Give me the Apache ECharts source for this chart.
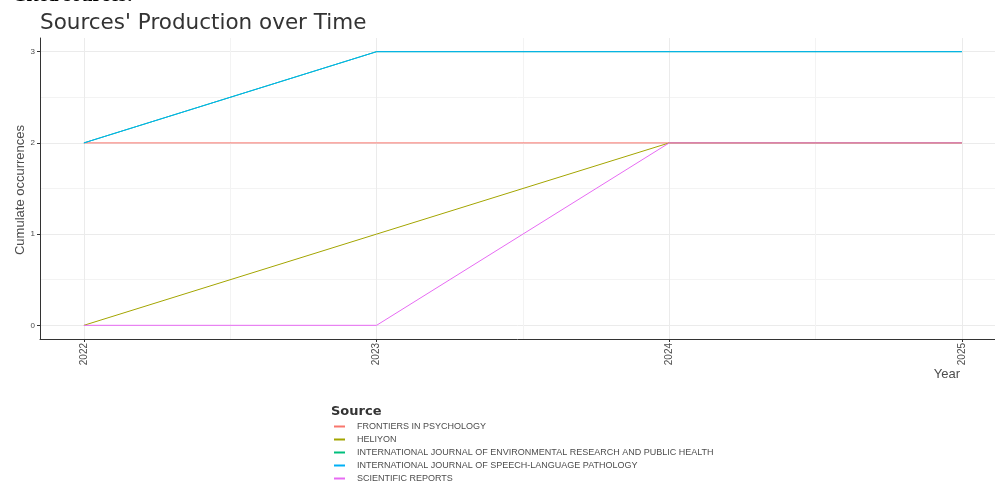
<!DOCTYPE html>
<html>
<head>
<meta charset="utf-8">
<script src="https://cdn.jsdelivr.net/npm/echarts@6/dist/echarts.min.js"></script>
<style>html,body{margin:0;padding:0;background:#fff;}#c{width:995px;height:483px;}</style>
</head>
<body>
<div id="c"></div>
<script>
const years = [2022, 2023, 2024, 2025];
const yTicks = [0, 1, 2, 3];
const yMinor = [0.5, 1.5, 2.5];
const xMinor = [2022.5, 2023.5, 2024.5];
const sourceNames = [
  'FRONTIERS IN PSYCHOLOGY',
  'HELIYON',
  'INTERNATIONAL JOURNAL OF ENVIRONMENTAL RESEARCH AND PUBLIC HEALTH',
  'INTERNATIONAL JOURNAL OF SPEECH-LANGUAGE PATHOLOGY',
  'SCIENTIFIC REPORTS'
];
const frontiers = [2, 2, 2, 2];
const heliyon = [0, 1, 2, 2];
const ijerph = [2, 3, 3, 3];
const ijslp = [2, 3, 3, 3];
const sciRep = [0, 0, 2, 2];
const colors = ['#F8766D', '#A3A500', '#00BF7D', '#00B0F6', '#E76BF3'];
const allValues = [frontiers, heliyon, ijerph, ijslp, sciRep];

const chart = echarts.init(document.getElementById('c'), null, {renderer: 'canvas'});
const gridColor = '#ebebeb';
const minorColor = '#f3f3f3';
const labelColor = '#4d4d4d';
const xMin = 2021.85, xMax = 2025.113, yMin = -0.15, yMax = 3.15;

const series = sourceNames.map((n, i) => ({
  name: n,
  type: 'line',
  xAxisIndex: 0,
  yAxisIndex: 0,
  data: years.map((y, j) => [y, allValues[i][j]]),
  showSymbol: false,
  symbol: 'none',
  color: colors[i],
  lineStyle: {color: colors[i], width: 1},
  itemStyle: {color: colors[i]},
  animation: false,
  z: 3 + i
}));

chart.setOption({
  animation: false,
  color: colors,
  textStyle: {fontFamily: 'Liberation Sans, Arial, sans-serif'},
  grid: [{left: 40, top: 38, right: 0, height: 301, containLabel: false}],
  xAxis: [{
    type: 'value', gridIndex: 0, min: xMin, max: xMax, position: 'bottom',
    axisLine: {show: true, onZero: false, lineStyle: {color: '#333', width: 1}},
    axisTick: {show: true, length: 3, customValues: years, lineStyle: {color: '#333'}},
    axisLabel: {show: true, customValues: years, rotate: 90, fontSize: 10, color: labelColor, margin: 4, formatter: v => String(v)},
    splitLine: {show: true, lineStyle: {color: gridColor, width: 1}}
  }, {
    type: 'value', gridIndex: 0, min: xMin, max: xMax, position: 'top',
    axisLine: {show: false},
    axisTick: {show: false, customValues: xMinor},
    axisLabel: {show: false, customValues: xMinor},
    splitLine: {show: true, lineStyle: {color: minorColor, width: 1}}
  }],
  yAxis: [{
    type: 'value', gridIndex: 0, min: yMin, max: yMax, position: 'left',
    axisLine: {show: true, onZero: false, lineStyle: {color: '#333', width: 1}},
    axisTick: {show: true, length: 3, customValues: yTicks, lineStyle: {color: '#333'}},
    axisLabel: {show: true, customValues: yTicks, fontSize: 8, color: labelColor, margin: 5},
    splitLine: {show: true, lineStyle: {color: gridColor, width: 1}}
  }, {
    type: 'value', gridIndex: 0, min: yMin, max: yMax, position: 'right',
    axisLine: {show: false},
    axisTick: {show: false, customValues: yMinor},
    axisLabel: {show: false, customValues: yMinor},
    splitLine: {show: true, lineStyle: {color: minorColor, width: 1}}
  }],
  legend: {
    show: true, orient: 'vertical', left: 334, top: 420, height: 70, padding: 0,
    icon: 'rect', itemWidth: 11, itemHeight: 2, itemGap: 0,
    itemStyle: {borderWidth: 0},
    data: sourceNames,
    textStyle: {fontSize: 9, color: labelColor, lineHeight: 13, padding: [0, 0, 0, 7]}
  },
  graphic: [
    {type: 'text', left: 12, top: -14, style: {text: 'Cited sources:', font: 'bold 20px "Liberation Serif", serif', fill: '#000'}},
    {type: 'text', left: 40, top: 12, style: {text: "Sources' Production over Time", font: '21.5px "DejaVu Sans", sans-serif', fill: '#333'}},
    {type: 'text', x: 20, y: 190, rotation: Math.PI / 2, style: {text: 'Cumulate occurrences', font: '13px "Liberation Sans", Arial, sans-serif', fill: '#4d4d4d', align: 'center', verticalAlign: 'middle'}},
    {type: 'text', x: 960, y: 374, style: {text: 'Year', font: '13px "Liberation Sans", Arial, sans-serif', fill: '#4d4d4d', align: 'right', verticalAlign: 'middle'}},
    {type: 'text', left: 331, top: 405, style: {text: 'Source', font: 'bold 13px "DejaVu Sans", sans-serif', fill: '#333'}}
  ],
  series: series
});
</script>
</body>
</html>
